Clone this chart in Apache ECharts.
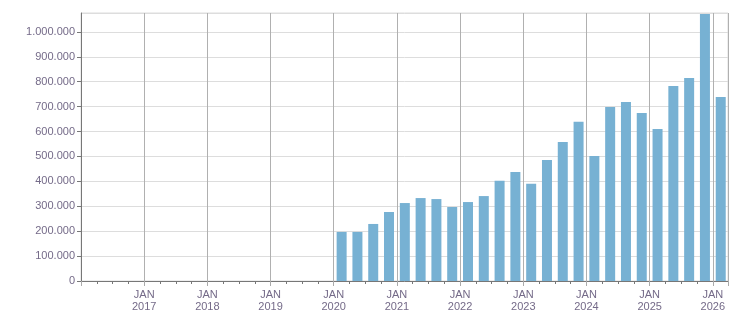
<!DOCTYPE html>
<html>
<head>
<meta charset="utf-8">
<script src="https://cdn.jsdelivr.net/npm/echarts@6/dist/echarts.min.js"></script>
<style>
  html, body { margin: 0; padding: 0; background: #fff; }
  #chart { width: 751px; height: 313px; }
</style>
</head>
<body>
<div id="chart"></div>
<script>
// quarterly values, first month of each quarter
const quarterStarts = [
  "2020-01", "2020-04", "2020-07", "2020-10",
  "2021-01", "2021-04", "2021-07", "2021-10",
  "2022-01", "2022-04", "2022-07", "2022-10",
  "2023-01", "2023-04", "2023-07", "2023-10",
  "2024-01", "2024-04", "2024-07", "2024-10",
  "2025-01", "2025-04", "2025-07", "2025-10",
  "2026-01"
];
const values = [
  197000, 197000, 229000, 277000,
  313000, 333000, 329000, 297000,
  317000, 341000, 402000, 438000,
  390000, 486000, 558000, 639000,
  502000, 699000, 719000, 675000,
  610000, 783000, 815000, 1072000,
  739000
];
const yTicks = [0, 100000, 200000, 300000, 400000, 500000, 600000, 700000, 800000, 900000, 1000000];

const labelColor = "#746a88";
const fontFamily = "Liberation Sans, Arial, sans-serif";

// bar sits in the middle of its quarter
const toYear = (s) => {
  const [y, m] = s.split("-").map(Number);
  return y + (m - 1) / 12 + 0.125;
};
const seriesData = quarterStarts.map((q, i) => [toYear(q), values[i]]);

const fmt = (v) => String(v).replace(/\B(?=(\d{3})+(?!\d))/g, ".");

const chart = echarts.init(document.getElementById("chart"));
chart.setOption({
  animation: false,
  backgroundColor: "#fff",
  grid: {
    left: 81,
    right: 23,
    top: 13,
    bottom: 32,
    outerBoundsMode: "none",
    containLabel: false,
    show: true,
    borderColor: "#dddddd",
    borderWidth: 1,
  },
  xAxis: {
    type: "value",
    min: 2016,
    max: 2026.24,
    interval: 1,
    axisLine: { show: true, lineStyle: { color: "#777", width: 1 } },
    axisTick: { show: true, length: 5, lineStyle: { color: "#aaa" } },
    minorTick: { show: true, splitNumber: 4, length: 3, lineStyle: { color: "#777" } },
    splitLine: { show: true, lineStyle: { color: "#b0b0b0", width: 1 } },
    axisLabel: {
      showMinLabel: false,
      showMaxLabel: false,
      color: labelColor,
      fontFamily: fontFamily,
      fontSize: 11,
      lineHeight: 12,
      margin: 8,
      formatter: (v) => (Number.isInteger(v) ? "JAN\n" + v : ""),
    },
  },
  yAxis: {
    type: "value",
    min: 0,
    max: 1076000,
    interval: 100000,
    axisLine: { show: true, lineStyle: { color: "#777", width: 1 } },
    axisTick: { show: true, length: 4, lineStyle: { color: "#777" } },
    splitLine: { show: true, lineStyle: { color: "#dddddd", width: 1 } },
    axisLabel: {
      showMaxLabel: false,
      color: labelColor,
      fontFamily: fontFamily,
      fontSize: 11,
      margin: 6,
      formatter: (v) => (yTicks.includes(v) ? fmt(v) : ""),
    },
  },
  series: [
    {
      type: "bar",
      data: seriesData,
      barWidth: 10,
      itemStyle: { color: "#77b1d3" },
    },
  ],
});
</script>
</body>
</html>
